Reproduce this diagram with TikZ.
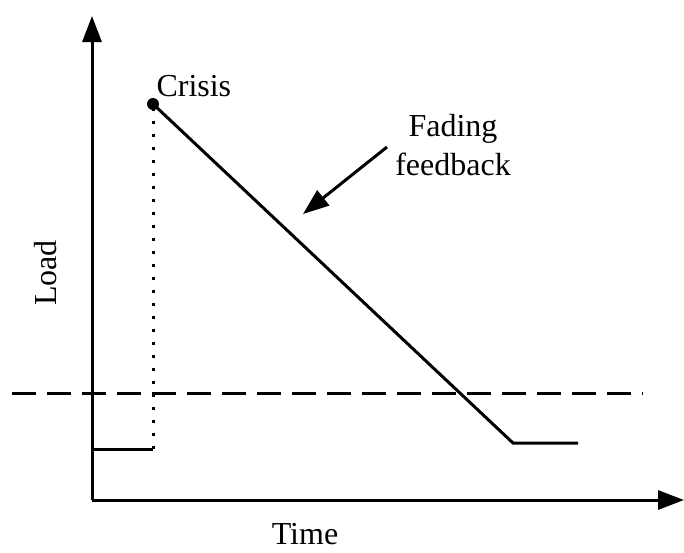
\documentclass[tikz,border=0pt]{standalone}
\usepackage{fontspec}
\setmainfont{Liberation Serif}
\usetikzlibrary{arrows.meta}
\begin{document}
\begin{tikzpicture}[x=0.5pt, y=-0.5pt, line width=1.5pt,
    lbl/.style = {font=\fontsize{16}{19.5}\selectfont, inner sep=0pt},
    axis/.style = {-{Triangle[length=13pt,width=9.5pt]}}]
    \useasboundingbox (0,0) rectangle (684,552);

    \coordinate (O) at (92,500);
    \coordinate (ytop) at (92,16);
    \coordinate (xend) at (684,500);
    \coordinate (low) at (92,449);
    \coordinate (jump) at (153,449);
    \coordinate (crisis) at (153,104);
    \coordinate (calm) at (513,443);
    \coordinate (calmend) at (578,443);
    \coordinate (lim1) at (12,393);
    \coordinate (lim2) at (643,393);
    \coordinate (fbstart) at (387,147);
    \coordinate (fbtip) at (303,214);

    \node[lbl, anchor=base west] (cr) at (155,96) {Crisis};
    \node[lbl, align=center] (fade) at (453,145) {Fading\\feedback};
    \node[lbl, rotate=90] (load) at (46,273) {Load};
    \node[lbl] (time) at (305,534) {Time};

    % axes
    \draw[axis] (O) -- (ytop);
    \draw[axis] (O) -- (xend);

    % threshold
    \draw[dash pattern=on 12pt off 5.5pt] (lim1) -- (lim2);

    % load curve
    \draw (low) -- (jump);
    \draw[dash pattern=on 1.5pt off 5pt] (jump) -- (crisis);
    \draw (crisis) -- (calm) -- (calmend);
    \fill (crisis) circle (3pt);

    \draw[axis] (fbstart) -- (fbtip);
\end{tikzpicture}
\end{document}
